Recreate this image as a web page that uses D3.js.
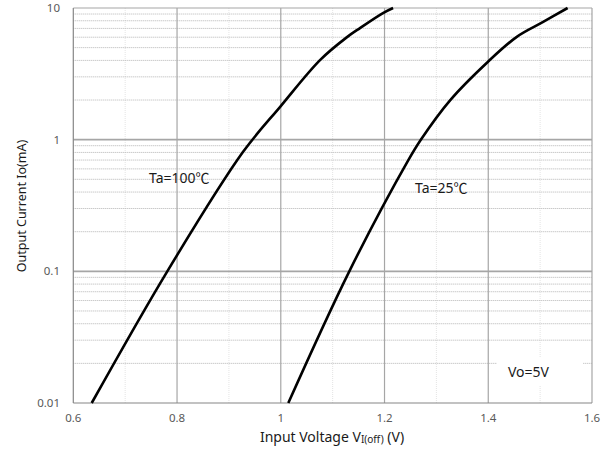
<!DOCTYPE html>
<html>
<head>
<meta charset="utf-8">
<script src="https://cdn.jsdelivr.net/npm/d3@7"></script>
<style>
  body { margin: 0; background: #fff; }
  svg { display: block; font-family: "Noto Sans", "Open Sans", sans-serif; }
</style>
</head>
<body>
<svg id="chart"></svg>
<script>
var width = 616,
    height = 452;

// Ta=100C curve, input voltage (V) vs output current (mA)
var volt100 = [0.6355, 0.7812, 0.927, 1.0, 1.0756, 1.1277, 1.1527, 1.197, 1.2165];
var curr100 = [0.01, 0.1, 0.805, 1.80, 4.02, 6.01, 7.04, 9.15, 10];

// Ta=25C curve
var volt25 = [1.0145, 1.1321, 1.2459, 1.270, 1.3268, 1.3995, 1.455, 1.505, 1.553];
var curr25 = [0.01, 0.1, 0.70, 1.0, 2.0, 3.91, 6.04, 7.8, 10];

var xTicks = [0.6, 0.8, 1.0, 1.2, 1.4, 1.6];
var xMinor = [0.7, 0.9, 1.1, 1.3, 1.5];
var yTicks = [0.01, 0.1, 1, 10];
var yTickLabels = ['0.01', '0.1', '1', '10'];

var margin = {left: 73.3, right: 24, top: 8, bottom: 49};

var x = d3.scaleLinear()
    .domain([0.6, 1.6])
    .range([margin.left, width - margin.right]);

var y = d3.scaleLog()
    .domain([0.01, 10])
    .range([height - margin.bottom, margin.top]);

var svg = d3.select('#chart')
    .attr('width', width)
    .attr('height', height);

var x0 = x.range()[0], x1 = x.range()[1],
    y0 = y.range()[0], y1 = y.range()[1];

// minor vertical grid (faint)
svg.append('g').selectAll('line')
    .data(xMinor)
    .enter().append('line')
    .attr('x1', function (d) { return x(d); })
    .attr('x2', function (d) { return x(d); })
    .attr('y1', y1)
    .attr('y2', y0)
    .attr('stroke', '#e4e4e4')
    .attr('stroke-dasharray', '1,1');

// minor horizontal grid: 2..9 in every decade
var yMinor = [];
[0.01, 0.1, 1].forEach(function (dec) {
    for (var k = 2; k <= 9; k++) yMinor.push(dec * k);
});
svg.append('g').selectAll('line')
    .data(yMinor)
    .enter().append('line')
    .attr('x1', x0)
    .attr('x2', x1)
    .attr('y1', function (d) { return y(d); })
    .attr('y2', function (d) { return y(d); })
    .attr('stroke', '#b4b4b4')
    .attr('stroke-dasharray', '1,1');

// major grid
svg.append('g').selectAll('line')
    .data(xTicks.slice(1, -1))
    .enter().append('line')
    .attr('x1', function (d) { return x(d); })
    .attr('x2', function (d) { return x(d); })
    .attr('y1', y1)
    .attr('y2', y0)
    .attr('stroke', '#a6a6a6')
    .attr('stroke-width', 1.2);

svg.append('g').selectAll('line')
    .data([0.1, 1])
    .enter().append('line')
    .attr('x1', x0)
    .attr('x2', x1)
    .attr('y1', function (d) { return y(d); })
    .attr('y2', function (d) { return y(d); })
    .attr('stroke', '#a6a6a6')
    .attr('stroke-width', 1.6);

// frame
svg.append('line').attr('x1', x0).attr('x2', x1).attr('y1', y1).attr('y2', y1)
    .attr('stroke', '#a6a6a6').attr('stroke-width', 1.2);
svg.append('line').attr('x1', x1).attr('x2', x1).attr('y1', y1).attr('y2', y0)
    .attr('stroke', '#a6a6a6').attr('stroke-width', 1.2);
svg.append('line').attr('x1', x0).attr('x2', x0).attr('y1', y1).attr('y2', y0)
    .attr('stroke', '#868686').attr('stroke-width', 1.2);
svg.append('line').attr('x1', x0).attr('x2', x1).attr('y1', y0).attr('y2', y0)
    .attr('stroke', '#868686').attr('stroke-width', 1.2);

// Vo=5V label box (hides grid behind it)
svg.append('rect')
    .attr('x', 497).attr('y', 358)
    .attr('width', 86).attr('height', 28)
    .attr('fill', '#fff');
svg.append('text')
    .attr('x', 508).attr('y', 377)
    .attr('font-size', 14)
    .attr('fill', '#1a1a1a')
    .text('Vo=5V');

// curves
var line = d3.line()
    .x(function (d) { return x(d[0]); })
    .y(function (d) { return y(d[1]); })
    .curve(d3.curveCatmullRom.alpha(0.5));

[[volt100, curr100], [volt25, curr25]].forEach(function (s) {
    svg.append('path')
        .datum(d3.zip(s[0], s[1]))
        .attr('d', line)
        .attr('fill', 'none')
        .attr('stroke', '#000')
        .attr('stroke-width', 2.6);
});

// curve labels
function tempLabel(px, py, t) {
    var tx = svg.append('text')
        .attr('x', px).attr('y', py)
        .attr('font-size', 14)
        .attr('fill', '#1a1a1a');
    tx.append('tspan').text('Ta=' + t);
    tx.append('tspan').attr('font-family', '"Noto Sans CJK JP"').text('℃');
}
tempLabel(149, 183, '100');
tempLabel(415, 193, '25');

// tick labels
svg.append('g').selectAll('text')
    .data(xTicks)
    .enter().append('text')
    .attr('x', function (d) { return x(d); })
    .attr('y', 422)
    .attr('text-anchor', 'middle')
    .attr('font-size', 11.5)
    .attr('fill', '#595959')
    .text(function (d) { return d === 1 ? '1' : d3.format('.1f')(d); });

svg.append('g').selectAll('text')
    .data(yTicks)
    .enter().append('text')
    .attr('x', 60)
    .attr('y', function (d) { return y(d) + 4; })
    .attr('text-anchor', 'end')
    .attr('font-size', 11.5)
    .attr('fill', '#595959')
    .text(function (d, i) { return yTickLabels[i]; });

// axis titles
var xt = svg.append('text')
    .attr('x', 332).attr('y', 442)
    .attr('text-anchor', 'middle')
    .attr('font-size', 14)
    .attr('fill', '#1a1a1a');
xt.append('tspan').text('Input Voltage V');
xt.append('tspan').attr('font-size', 10).attr('dy', 1).text('I(off)');
xt.append('tspan').attr('dy', -1).text(' (V)');

svg.append('text')
    .attr('transform', 'translate(26,206) rotate(-90)')
    .attr('text-anchor', 'middle')
    .attr('font-size', 12.5)
    .attr('fill', '#1a1a1a')
    .text('Output Current Io(mA)');
</script>
</body>
</html>
